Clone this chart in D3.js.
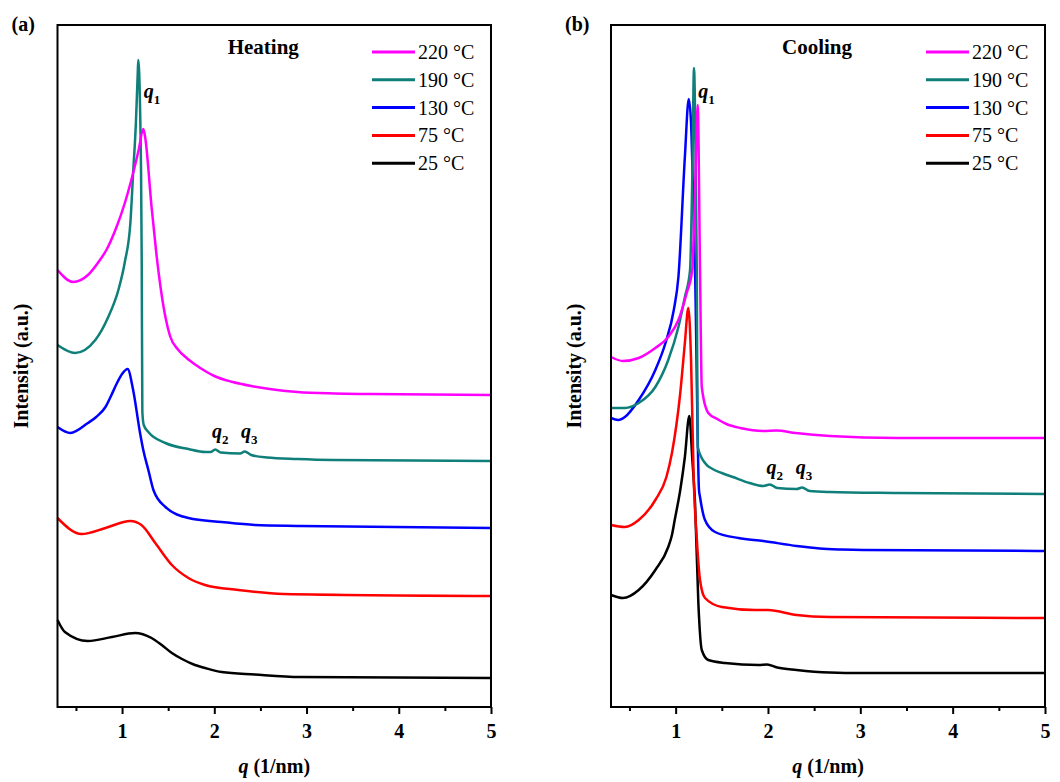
<!DOCTYPE html>
<html>
<head>
<meta charset="utf-8">
<script src="https://cdn.jsdelivr.net/npm/d3@7"></script>
<style>
  body { margin: 0; background: #fff; }
  text { font-family: "Liberation Serif", "Times New Roman", serif; }
</style>
</head>
<body>
<svg width="1060" height="782"></svg>
<script>
// SAXS curves, [q (1/nm), intensity (a.u., offset for stacking)]
const heat220 = [[0.30,437],[0.47,425],[0.63,432],[0.76,447],[0.83,457],[0.94,480],[1.03,504],[1.12,534],[1.18,557],[1.23,578],[1.25,570],[1.32,500],[1.37,455],[1.42,418],[1.47,390],[1.52,371],[1.61,357],[1.70,349],[1.80,342],[1.90,336],[2.00,331],[2.20,325],[2.40,321],[2.60,318],[2.90,315],[3.30,313.5],[3.70,313],[5.0,312]];
const heat190 = [[0.30,362],[0.49,354],[0.71,367],[0.85,390],[0.96,417],[1.03,445],[1.09,484],[1.12,534],[1.15,584],[1.17,634],[1.176,647],[1.195,600],[1.206,534],[1.213,447],[1.22,295],[1.235,282],[1.285,275],[1.47,264],[1.72,258],[1.90,255],[1.96,255],[2.01,257.5],[2.07,254.5],[2.28,253.5],[2.33,255.5],[2.40,252],[2.57,249.5],[2.9,248],[3.29,247],[5.0,246]];
const heat130 = [[0.30,280],[0.44,274],[0.63,284],[0.72,290],[0.82,300],[0.88,311],[0.94,323],[1.00,333],[1.06,338],[1.12,317],[1.195,274],[1.23,257],[1.285,237],[1.34,217],[1.47,200],[1.72,189],[2.08,185],[2.44,182],[2.93,181],[5.0,179]];
const heat75 = [[0.30,189],[0.56,173],[0.82,179],[1.09,186],[1.21,182],[1.36,164],[1.54,142],[1.72,129],[1.90,122],[2.26,117],[2.75,113],[5.0,111]];
const heat25 = [[0.30,87],[0.38,75],[0.63,66],[0.89,70],[1.14,74],[1.32,69],[1.43,62],[1.54,54],[1.65,48],[1.79,42],[1.90,39],[2.08,35],[2.44,32.5],[2.93,30],[5.0,29]];

const cool220 = [[0.30,350],[0.43,346],[0.60,349],[0.78,359],[0.92,370],[1.03,387],[1.12,414],[1.18,437],[1.21,517],[1.239,602],[1.264,437],[1.283,320],[1.354,294],[1.45,288],[1.55,283],[1.70,279],[1.95,276],[2.09,276.5],[2.30,274],[2.67,271],[3.40,269],[5.0,269]];
const cool190 = [[0.30,299],[0.45,299],[0.60,304],[0.78,320],[0.92,347],[1.03,380],[1.10,410],[1.156,437],[1.181,534],[1.199,639],[1.218,534],[1.229,437],[1.239,260],[1.318,244],[1.40,238],[1.50,234],[1.62,230],[1.80,224],[1.95,221],[2.02,222.5],[2.10,219],[2.31,218],[2.37,219.5],[2.45,216],[2.67,215],[3.40,214],[5.0,213]];
const cool130 = [[0.30,289],[0.38,287],[0.45,290],[0.60,307],[0.78,337],[0.89,364],[0.98,397],[1.03,430],[1.10,550],[1.142,608],[1.167,584],[1.192,500],[1.21,437],[1.253,217],[1.264,210],[1.318,187],[1.427,175],[1.68,169],[1.95,166],[2.31,161],[2.56,158.5],[2.80,157.5],[3.03,157],[5.0,156]];
const cool75 = [[0.30,182],[0.45,180],[0.60,187],[0.78,207],[0.90,230],[0.96,254],[1.05,314],[1.10,364],[1.137,399],[1.167,347],[1.195,230],[1.228,170],[1.264,127],[1.318,109],[1.50,100],[1.86,97],[2.0,97],[2.31,92],[2.67,90],[5.0,89]];
const cool25 = [[0.30,112],[0.43,109],[0.60,117],[0.78,137],[0.92,160],[0.96,172],[0.99,187],[1.05,217],[1.10,250],[1.148,291],[1.181,247],[1.21,204],[1.246,104],[1.283,57],[1.354,47],[1.535,44],[1.90,42],[1.99,42.5],[2.10,39.5],[2.31,37],[2.67,34.5],[3.0,34],[5.0,34]];

const tempLabels = ['220 °C', '190 °C', '130 °C', '75 °C', '25 °C'];
const colors = ['#ff00ff', '#0f7f7a', '#0000ff', '#ff0000', '#000000'];
const majorTicks = [1, 2, 3, 4, 5];
const minorTicks = [0.5, 1.5, 2.5, 3.5, 4.5];

const svg = d3.select('svg');
const plotTop = 25, plotBottom = 707;

function panel(left, right, tag, title, series, q1, q23) {
  const x = d3.scaleLinear().domain([0.3, 5]).range([left, right]);
  const y = d3.scaleLinear().domain([0, 682]).range([plotBottom, plotTop]);
  const g = svg.append('g');

  // minor + major ticks on bottom only
  g.append('g').attr('transform', `translate(0,${plotBottom})`)
    .call(d3.axisBottom(x).tickValues(minorTicks).tickSize(4).tickFormat(''))
    .call(a => a.select('.domain').remove())
    .call(a => a.selectAll('line').attr('stroke-width', 2));
  g.append('g').attr('transform', `translate(0,${plotBottom})`)
    .call(d3.axisBottom(x).tickValues(majorTicks).tickSize(7).tickPadding(10).tickFormat(d3.format('d')))
    .call(a => a.select('.domain').remove())
    .call(a => a.selectAll('line').attr('stroke-width', 2))
    .call(a => a.selectAll('text').attr('font-size', 20).attr('font-weight', 'bold')
      .attr('font-family', '"Liberation Serif", serif').attr('fill', '#000'));

  const line = d3.line().x(d => x(d[0])).y(d => y(d[1])).curve(d3.curveMonotoneX);
  // draw bottom curve first
  series.slice().reverse().forEach((s, i) => {
    g.append('path').datum(s).attr('d', line)
      .attr('fill', 'none').attr('stroke', colors[series.length - 1 - i])
      .attr('stroke-width', 2.5).attr('stroke-linejoin', 'round');
  });

  g.append('rect').attr('x', left).attr('y', plotTop)
    .attr('width', right - left).attr('height', plotBottom - plotTop)
    .attr('fill', 'none').attr('stroke', '#000').attr('stroke-width', 2);

  // panel tag and title
  g.append('text').attr('x', left - 46).attr('y', 31)
    .attr('font-size', 20).attr('font-weight', 'bold').text(tag);
  g.append('text').attr('x', (left + right) / 2 - 11).attr('y', 54)
    .attr('text-anchor', 'middle').attr('font-size', 21).attr('font-weight', 'bold').text(title);

  // legend
  const lx = right - 119;
  tempLabels.forEach((t, i) => {
    const cy = 52 + i * 27.8;
    g.append('line').attr('x1', lx).attr('x2', lx + 43).attr('y1', cy).attr('y2', cy)
      .attr('stroke', colors[i]).attr('stroke-width', 3);
    g.append('text').attr('x', lx + 46).attr('y', cy + 7)
      .attr('font-size', 20).text(t);
  });

  // axis titles
  const xt = g.append('text').attr('x', (left + right) / 2).attr('y', 773)
    .attr('text-anchor', 'middle').attr('font-size', 20).attr('font-weight', 'bold');
  xt.append('tspan').attr('font-style', 'italic').text('q');
  xt.append('tspan').text(' (1/nm)');
  g.append('text').attr('transform', `translate(${left - 30},366) rotate(-90)`)
    .attr('text-anchor', 'middle').attr('font-size', 20).attr('font-weight', 'bold')
    .text('Intensity (a.u.)');

  // peak labels
  const peakLabel = (q, I, n) => {
    const t = g.append('text').attr('x', x(q)).attr('y', y(I))
      .attr('font-size', 20).attr('font-weight', 'bold');
    t.append('tspan').attr('font-style', 'italic').text('q');
    t.append('tspan').attr('font-size', 13).attr('dy', 6).text(n);
  };
  peakLabel(q1[0], q1[1], '1');
  peakLabel(q23[0], q23[1], '2');
  peakLabel(q23[0] + 0.315, q23[1], '3');
}

panel(57.5, 491, '(a)', 'Heating', [heat220, heat190, heat130, heat75, heat25], [1.235, 609], [1.975, 269]);
panel(611, 1045, '(b)', 'Cooling', [cool220, cool190, cool130, cool75, cool25], [1.245, 609], [1.985, 233]);
</script>
</body>
</html>
